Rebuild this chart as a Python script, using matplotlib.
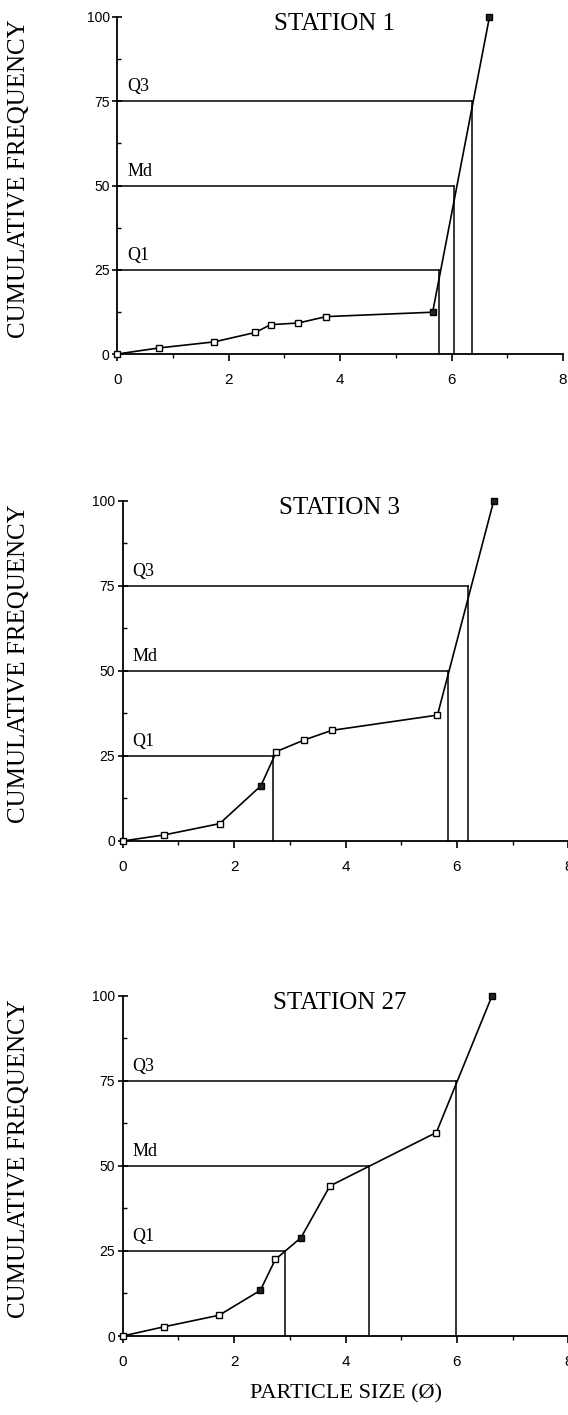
import matplotlib
matplotlib.use("Agg")
import matplotlib.pyplot as plt
from matplotlib.ticker import MultipleLocator, FixedLocator

# ---------------- data ----------------
stations = ["STATION 1", "STATION 3", "STATION 27"]

st1_size = [0.0, 0.75, 1.74, 2.48, 2.75, 3.25, 3.75, 5.66, 6.68]
st1_freq = [0.0, 1.8, 3.6, 6.4, 8.7, 9.2, 11.1, 12.4, 100.0]
st1_quart = [5.77, 6.05, 6.36]

st3_size = [0.0, 0.75, 1.74, 2.48, 2.76, 3.26, 3.75, 5.65, 6.66]
st3_freq = [0.0, 1.8, 5.1, 16.2, 26.3, 29.7, 32.5, 37.0, 100.0]
st3_quart = [2.70, 5.83, 6.20]

st27_size = [0.0, 0.74, 1.73, 2.47, 2.74, 3.20, 3.72, 5.63, 6.63]
st27_freq = [0.0, 2.7, 6.1, 13.4, 22.5, 28.9, 44.1, 59.8, 100.0]
st27_quart = [2.92, 4.42, 5.98]

quart_levels = [25, 50, 75]
quart_labels = ["Q1", "Md", "Q3"]

x_ticks = [0, 2, 4, 6, 8]
y_ticks = [0, 25, 50, 75, 100]

# marker fill style (dark = filled square) per point
dark1 = [7, 8]
dark3 = [3, 8]
dark27 = [3, 5, 8]

sizes = [st1_size, st3_size, st27_size]
freqs = [st1_freq, st3_freq, st27_freq]
quarts = [st1_quart, st3_quart, st27_quart]
darks = [dark1, dark3, dark27]

# ---------------- layout ----------------
W, H = 568, 1415
fig = plt.figure(figsize=(W / 100, H / 100), dpi=100)

# (left, top, right(x=8), bottom) in pixels
boxes = [
    (117.3, 17.0, 563.0, 354.0),
    (122.7, 500.7, 568.4, 841.0),
    (122.7, 995.7, 568.4, 1336.0),
]

serif = ["Liberation Serif", "DejaVu Serif"]
sans = ["Liberation Sans", "DejaVu Sans"]

for i in range(3):
    l, t, r, b = boxes[i]
    ax = fig.add_axes([l / W, (H - b) / H, (r - l) / W, (b - t) / H])
    ax.set_xlim(0, 8)
    ax.set_ylim(0, 100)
    for s in ["top", "right"]:
        ax.spines[s].set_visible(False)
    for s in ["left", "bottom"]:
        ax.spines[s].set_linewidth(1.3)
        ax.spines[s].set_color("black")

    ax.xaxis.set_major_locator(FixedLocator(x_ticks))
    ax.xaxis.set_minor_locator(MultipleLocator(1))
    ax.yaxis.set_major_locator(FixedLocator(y_ticks))
    ax.yaxis.set_minor_locator(MultipleLocator(12.5))
    ax.tick_params(axis="x", which="major", direction="out", length=5, width=1.2, pad=9)
    ax.tick_params(axis="x", which="minor", direction="out", length=3, width=1.0)
    ax.tick_params(axis="y", which="major", direction="inout", length=7, width=1.2, pad=2)
    ax.tick_params(axis="y", which="minor", direction="in", length=3, width=1.0)
    ax.set_xticklabels([str(v) for v in x_ticks], fontfamily=sans, fontsize=11)
    ax.set_yticklabels([str(v) for v in y_ticks], fontfamily=sans, fontsize=10)

    # quartile construction lines
    for q, lev, lab in zip(quarts[i], quart_levels, quart_labels):
        ax.plot([0, q], [lev, lev], color="black", lw=1.1, clip_on=False)
        ax.plot([q, q], [0, lev], color="black", lw=1.1, clip_on=False)
        ax.annotate(lab, xy=(0, lev), xytext=(10, 6), textcoords="offset pixels",
                    fontsize=13, fontfamily=serif, ha="left", va="bottom")

    # cumulative curve
    ax.plot(sizes[i], freqs[i], color="black", lw=1.2, zorder=3, clip_on=False)
    for j, (xv, yv) in enumerate(zip(sizes[i], freqs[i])):
        fc = "#222222" if j in darks[i] else "white"
        ax.plot([xv], [yv], marker="s", ms=5, mfc=fc, mec="black", mew=1.0,
                ls="none", zorder=4, clip_on=False)

    ax.text(3.9, 98, stations[i], ha="center", va="center", fontsize=18,
            fontfamily=serif)

    fig.text(19 / W, (H - ((t + b) / 2 - 7)) / H, "CUMULATIVE FREQUENCY",
             rotation=90, ha="center", va="center", fontsize=18, fontfamily=serif)

fig.text(346 / W, (H - 1394) / H, "PARTICLE SIZE (Ø)", ha="center", va="center",
         fontsize=16, fontfamily=serif)

fig.savefig("out.png", dpi=100)
